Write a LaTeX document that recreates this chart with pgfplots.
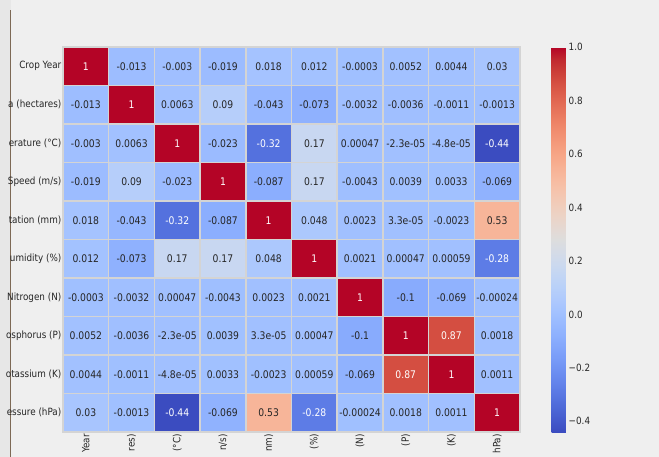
\documentclass[border=0pt]{standalone}
\usepackage{pgfplots}
\pgfplotsset{compat=1.18}
\usepackage{pgfplotstable}
\usepackage{fontspec}
\setmainfont{DejaVu Sans}[FakeStretch=0.88]
\definecolor{bg}{RGB}{239,239,239}
\definecolor{bgl}{RGB}{231,231,231}
\definecolor{edge}{RGB}{125,105,85}
\definecolor{gridc}{RGB}{212,212,212}
\definecolor{txt}{RGB}{38,38,38}

\pgfplotstableread{
x y c label w
0 0 1 1 1
1 0 -0.013 -0.013 0
2 0 -0.003 -0.003 0
3 0 -0.019 -0.019 0
4 0 0.018 0.018 0
5 0 0.012 0.012 0
6 0 -0.0003 -0.0003 0
7 0 0.0052 0.0052 0
8 0 0.0044 0.0044 0
9 0 0.03 0.03 0
0 1 -0.013 -0.013 0
1 1 1 1 1
2 1 0.0063 0.0063 0
3 1 0.09 0.09 0
4 1 -0.043 -0.043 0
5 1 -0.073 -0.073 0
6 1 -0.0032 -0.0032 0
7 1 -0.0036 -0.0036 0
8 1 -0.0011 -0.0011 0
9 1 -0.0013 -0.0013 0
0 2 -0.003 -0.003 0
1 2 0.0063 0.0063 0
2 2 1 1 1
3 2 -0.023 -0.023 0
4 2 -0.32 -0.32 1
5 2 0.17 0.17 0
6 2 0.00047 0.00047 0
7 2 -2.3e-05 -2.3e-05 0
8 2 -4.8e-05 -4.8e-05 0
9 2 -0.44 -0.44 1
0 3 -0.019 -0.019 0
1 3 0.09 0.09 0
2 3 -0.023 -0.023 0
3 3 1 1 1
4 3 -0.087 -0.087 0
5 3 0.17 0.17 0
6 3 -0.0043 -0.0043 0
7 3 0.0039 0.0039 0
8 3 0.0033 0.0033 0
9 3 -0.069 -0.069 0
0 4 0.018 0.018 0
1 4 -0.043 -0.043 0
2 4 -0.32 -0.32 1
3 4 -0.087 -0.087 0
4 4 1 1 1
5 4 0.048 0.048 0
6 4 0.0023 0.0023 0
7 4 3.3e-05 3.3e-05 0
8 4 -0.0023 -0.0023 0
9 4 0.53 0.53 0
0 5 0.012 0.012 0
1 5 -0.073 -0.073 0
2 5 0.17 0.17 0
3 5 0.17 0.17 0
4 5 0.048 0.048 0
5 5 1 1 1
6 5 0.0021 0.0021 0
7 5 0.00047 0.00047 0
8 5 0.00059 0.00059 0
9 5 -0.28 -0.28 1
0 6 -0.0003 -0.0003 0
1 6 -0.0032 -0.0032 0
2 6 0.00047 0.00047 0
3 6 -0.0043 -0.0043 0
4 6 0.0023 0.0023 0
5 6 0.0021 0.0021 0
6 6 1 1 1
7 6 -0.1 -0.1 0
8 6 -0.069 -0.069 0
9 6 -0.00024 -0.00024 0
0 7 0.0052 0.0052 0
1 7 -0.0036 -0.0036 0
2 7 -2.3e-05 -2.3e-05 0
3 7 0.0039 0.0039 0
4 7 3.3e-05 3.3e-05 0
5 7 0.00047 0.00047 0
6 7 -0.1 -0.1 0
7 7 1 1 1
8 7 0.87 0.87 1
9 7 0.0018 0.0018 0
0 8 0.0044 0.0044 0
1 8 -0.0011 -0.0011 0
2 8 -4.8e-05 -4.8e-05 0
3 8 0.0033 0.0033 0
4 8 -0.0023 -0.0023 0
5 8 0.00059 0.00059 0
6 8 -0.069 -0.069 0
7 8 0.87 0.87 1
8 8 1 1 1
9 8 0.0011 0.0011 0
0 9 0.03 0.03 0
1 9 -0.0013 -0.0013 0
2 9 -0.44 -0.44 1
3 9 -0.069 -0.069 0
4 9 0.53 0.53 0
5 9 -0.28 -0.28 1
6 9 -0.00024 -0.00024 0
7 9 0.0018 0.0018 0
8 9 0.0011 0.0011 0
9 9 1 1 1
}\corr

\begin{document}
\begin{tikzpicture}
\fill[bg] (0,0) rectangle (659pt,457pt);
\fill[bgl] (0,0) rectangle (10.5pt,457pt);
\draw[edge, line width=1.2pt] (10.8pt,0) -- (10.8pt,447pt);
\begin{axis}[
  at={(63pt,25pt)}, anchor=south west,
  scale only axis, width=457pt, height=385pt,
  xmin=-0.5, xmax=9.5, ymin=-0.5, ymax=9.5,
  y dir=reverse, enlargelimits=false,
  colormap={coolwarm}{
    rgb255=(59,76,192) rgb255=(68,90,204) rgb255=(77,104,215) rgb255=(87,117,225)
    rgb255=(98,130,234) rgb255=(108,142,241) rgb255=(119,154,247) rgb255=(130,165,251)
    rgb255=(141,176,254) rgb255=(152,185,255) rgb255=(163,194,255) rgb255=(174,201,253)
    rgb255=(184,208,249) rgb255=(194,213,244) rgb255=(204,217,238) rgb255=(213,219,230)
    rgb255=(221,221,221) rgb255=(229,216,209) rgb255=(236,211,197) rgb255=(241,204,185)
    rgb255=(245,196,173) rgb255=(247,187,160) rgb255=(247,177,148) rgb255=(247,166,135)
    rgb255=(244,154,123) rgb255=(241,141,111) rgb255=(236,127,99) rgb255=(229,112,88)
    rgb255=(222,96,77) rgb255=(213,80,66) rgb255=(203,62,56) rgb255=(192,40,47)
    rgb255=(180,4,38)},
  point meta min=-0.44, point meta max=1,
  xtick={0,...,9}, ytick={0,...,9},
  xticklabels={Year, res), (°C), n/s), nm), (\%), (N), (P), (K), hPa)},
  yticklabels={Crop Year, a (hectares), erature (°C), Speed (m/s), tation (mm), umidity (\%), Nitrogen (N), osphorus (P), otassium (K), essure (hPa)},
  xticklabel style={rotate=90, anchor=east, font=\fontsize{10}{12}\selectfont, text=txt, inner sep=2pt},
  yticklabel style={anchor=east, font=\fontsize{10}{12}\selectfont, text=txt, inner sep=1.5pt},
  major tick length=0pt, minor tick length=0pt,
  tick style={draw=none},
  minor xtick={0.5,1.5,...,8.5}, minor ytick={0.5,1.5,...,8.5},
  xminorgrids=true, yminorgrids=true,
  minor grid style={gridc, line width=1.5pt},
  axis on top,
  axis line style={gridc, line width=1.5pt},
  colorbar,
  colorbar style={
    at={(parent axis.north east)}, anchor=north west, xshift=23pt,
    scale only axis, width=15pt, height=385pt,
    ytick={-0.4,-0.2,0,0.2,0.4,0.6,0.8,1.0},
    yticklabels={−0.4,−0.2,0.0,0.2,0.4,0.6,0.8,1.0},
    yticklabel style={font=\fontsize{10}{12}\selectfont, text=txt, inner sep=2pt},
    axis line style={draw=none},
    tick style={draw=none}, major tick length=0pt,
  },
]
\addplot[matrix plot*, mesh/cols=10, point meta=explicit] table[x=x, y=y, meta=c]{\corr};
\addplot[only marks, mark=none, point meta=explicit symbolic,
  restrict expr to domain={\thisrow{w}}{-0.5:0.5},
  nodes near coords, nodes near coords align=center,
  every node near coord/.append style={anchor=center, text=txt, font=\fontsize{10.5}{12}\selectfont}]
  table[x=x, y=y, meta=label]{\corr};
\addplot[only marks, mark=none, point meta=explicit symbolic,
  restrict expr to domain={\thisrow{w}}{0.5:1.5},
  nodes near coords, nodes near coords align=center,
  every node near coord/.append style={anchor=center, text=white, font=\fontsize{10.5}{12}\selectfont}]
  table[x=x, y=y, meta=label]{\corr};
\end{axis}
\pgfresetboundingbox
\path[use as bounding box] (0,0) rectangle (659pt,457pt);
\end{tikzpicture}
\end{document}
